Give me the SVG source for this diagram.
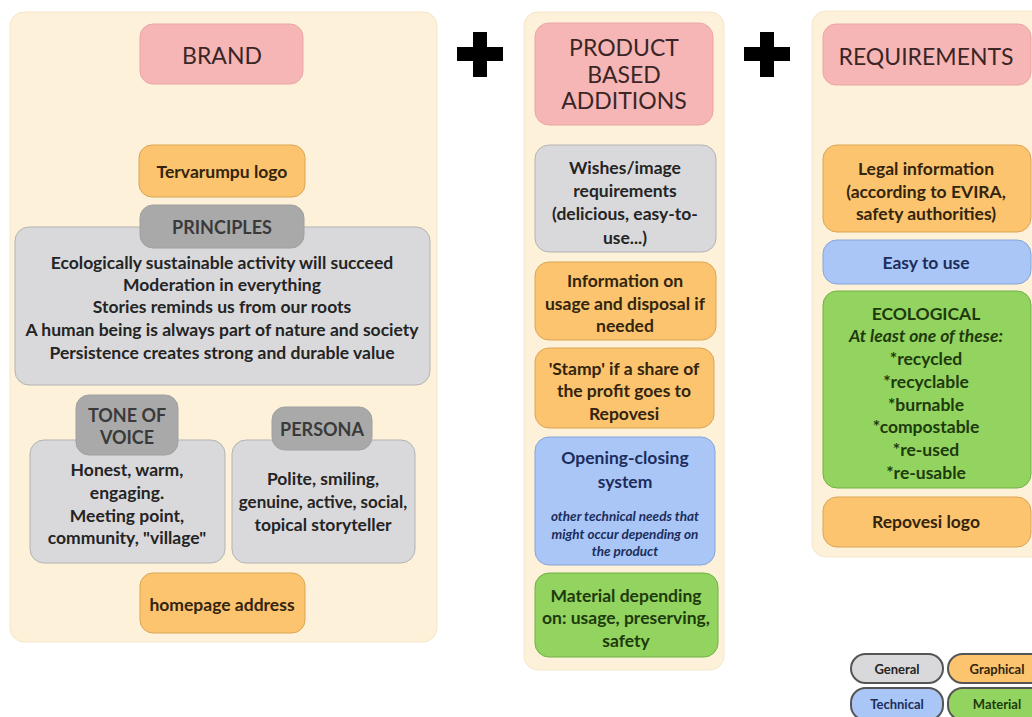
<svg xmlns="http://www.w3.org/2000/svg" width="1032" height="717" viewBox="0 0 1032 717">
<style>
text{font-family:Lato,"Open Sans","Liberation Sans",sans-serif;text-anchor:middle;dominant-baseline:central;fill:#242424;font-weight:bold;font-size:17.5px}
.panel{fill:#fdf1d9;stroke:#f6e6c8;stroke-width:1}
.pink{fill:#f7b6b6;stroke:#eba5a5;stroke-width:1}
.orange{fill:#fcc46e;stroke:#d9a657;stroke-width:1}
.gray{fill:#d9d9db;stroke:#b3b3b3;stroke-width:1}
.tab{fill:#a9a9aa;stroke:#a0a0a0;stroke-width:1}
.blue{fill:#a9c6f6;stroke:#86a4d8;stroke-width:1}
.green{fill:#92d45f;stroke:#72b046;stroke-width:1}
.head{font-weight:normal;font-size:23px;fill:#3a2626}
.tabt{font-size:18px;fill:#3a3a3a}
.bt{fill:#1c2d5c}
.gt{fill:#1e3a0d}
.ot{fill:#33240e}
.it{font-style:italic}
.sm{font-size:13.5px}
.nar{font-size:17px}
.leg{stroke:#555;stroke-width:2}
.legt{font-size:13px}
</style>

<g id="panel-brand"><rect class="panel" x="10" y="12" width="427" height="630" rx="14"/></g>
<g id="panel-product"><rect class="panel" x="524" y="12" width="200" height="658" rx="14"/></g>
<g id="panel-requirements"><rect class="panel" x="812" y="11" width="240" height="546" rx="14"/></g>

<g id="plus-signs" fill="#000">
<path d="M473,32 h14 v15 h16 v14 h-16 v16 h-14 v-16 h-16 v-14 h16 z"/>
<path d="M760,32 h14 v15 h16 v14 h-16 v16 h-14 v-16 h-16 v-14 h16 z"/>
</g>

<g id="brand">
<rect class="pink" x="140" y="24" width="163" height="60" rx="13"/>
<text class="head" x="222" y="55">BRAND</text>
</g>
<g id="tervarumpu-logo">
<rect class="orange" x="139" y="145" width="166" height="52" rx="13"/>
<text class="ot" x="222" y="171">Tervarumpu logo</text>
</g>
<g id="principles">
<rect class="gray" x="15" y="227" width="415" height="158" rx="14"/>
<rect class="tab" x="140" y="205" width="164" height="43" rx="13"/>
<text class="tabt" x="222" y="227">PRINCIPLES</text>
<text x="222" y="262">Ecologically sustainable activity will succeed</text>
<text x="222" y="284">Moderation in everything</text>
<text x="222" y="306">Stories reminds us from our roots</text>
<text x="222" y="329">A human being is always part of nature and society</text>
<text x="222" y="352">Persistence creates strong and durable value</text>
</g>
<g id="tone-of-voice">
<rect class="gray" x="30" y="440" width="195" height="123" rx="14"/>
<rect class="tab" x="76" y="395" width="102" height="60" rx="13"/>
<text class="tabt" x="127" y="415">TONE OF</text>
<text class="tabt" x="127" y="437">VOICE</text>
<text x="127" y="469">Honest, warm,</text>
<text x="127" y="492">engaging.</text>
<text x="127" y="515">Meeting point,</text>
<text x="127" y="537">community, "village"</text>
</g>
<g id="persona">
<rect class="gray" x="232" y="440" width="183" height="123" rx="14"/>
<rect class="tab" x="272" y="407" width="100" height="43" rx="13"/>
<text class="tabt" x="322" y="429">PERSONA</text>
<text x="323" y="478">Polite, smiling,</text>
<text class="nar" x="323" y="501">genuine, active, social,</text>
<text x="323" y="524">topical storyteller</text>
</g>
<g id="homepage-address">
<rect class="orange" x="140" y="573" width="165" height="60" rx="13"/>
<text class="ot" x="222" y="604">homepage address</text>
</g>

<g id="product-based-additions">
<rect class="pink" x="535" y="23" width="178" height="102" rx="14"/>
<text class="head" x="624" y="47">PRODUCT</text>
<text class="head" x="624" y="74">BASED</text>
<text class="head" x="624" y="100">ADDITIONS</text>
</g>
<g id="wishes">
<rect class="gray" x="535" y="145" width="181" height="107" rx="14"/>
<text x="625" y="167">Wishes/image</text>
<text x="625" y="190">requirements</text>
<text x="625" y="213">(delicious, easy-to-</text>
<text x="625" y="237">use...)</text>
</g>
<g id="information-usage">
<rect class="orange" x="535" y="262" width="181" height="78" rx="14"/>
<text class="ot" x="625" y="280">Information on</text>
<text class="ot" x="625" y="303">usage and disposal if</text>
<text class="ot" x="625" y="325">needed</text>
</g>
<g id="stamp">
<rect class="orange" x="535" y="348" width="179" height="80" rx="14"/>
<text class="ot" x="624" y="368">'Stamp' if a share of</text>
<text class="ot" x="624" y="390">the profit goes to</text>
<text class="ot" x="624" y="413">Repovesi</text>
</g>
<g id="opening-closing">
<rect class="blue" x="535" y="437" width="180" height="128" rx="14"/>
<text class="bt" x="625" y="457">Opening-closing</text>
<text class="bt" x="625" y="481">system</text>
<text class="bt it sm" x="625" y="516">other technical needs that</text>
<text class="bt it sm" x="625" y="534">might occur depending on</text>
<text class="bt it sm" x="625" y="551">the product</text>
</g>
<g id="material-depending">
<rect class="green" x="535" y="573" width="183" height="84" rx="14"/>
<text class="gt" x="626" y="595">Material depending</text>
<text class="gt" x="626" y="617">on: usage, preserving,</text>
<text class="gt" x="626" y="640">safety</text>
</g>

<g id="requirements">
<rect class="pink" x="823" y="24" width="208" height="61" rx="13"/>
<text class="head" x="926" y="56">REQUIREMENTS</text>
</g>
<g id="legal-information">
<rect class="orange" x="823" y="145" width="208" height="87" rx="14"/>
<text class="ot" x="926" y="168">Legal information</text>
<text class="ot" x="926" y="191">(according to EVIRA,</text>
<text class="ot" x="926" y="213">safety authorities)</text>
</g>
<g id="easy-to-use">
<rect class="blue" x="823" y="240" width="208" height="44" rx="14"/>
<text class="bt" x="926" y="262">Easy to use</text>
</g>
<g id="ecological">
<rect class="green" x="823" y="291" width="208" height="197" rx="14"/>
<text class="gt" x="926" y="313">ECOLOGICAL</text>
<text class="gt it" x="926" y="335">At least one of these:</text>
<text class="gt" x="926" y="358">*recycled</text>
<text class="gt" x="926" y="381">*recyclable</text>
<text class="gt" x="926" y="404">*burnable</text>
<text class="gt" x="926" y="426">*compostable</text>
<text class="gt" x="926" y="449">*re-used</text>
<text class="gt" x="926" y="472">*re-usable</text>
</g>
<g id="repovesi-logo">
<rect class="orange" x="823" y="497" width="208" height="50" rx="14"/>
<text class="ot" x="926" y="521">Repovesi logo</text>
</g>

<g id="legend">
<g id="legend-general"><rect class="gray leg" x="851" y="654" width="92" height="29" rx="14.5"/><text class="legt" x="897" y="669">General</text></g>
<g id="legend-graphical"><rect class="orange leg" x="948" y="654" width="100" height="29" rx="14.5"/><text class="legt ot" x="997" y="669">Graphical</text></g>
<g id="legend-technical"><rect class="blue leg" x="851" y="688" width="92" height="32" rx="14.5"/><text class="legt bt" x="897" y="704">Technical</text></g>
<g id="legend-material"><rect class="green leg" x="948" y="688" width="100" height="32" rx="14.5"/><text class="legt gt" x="997" y="704">Material</text></g>
</g>
<g id="connectors"/>
</svg>
